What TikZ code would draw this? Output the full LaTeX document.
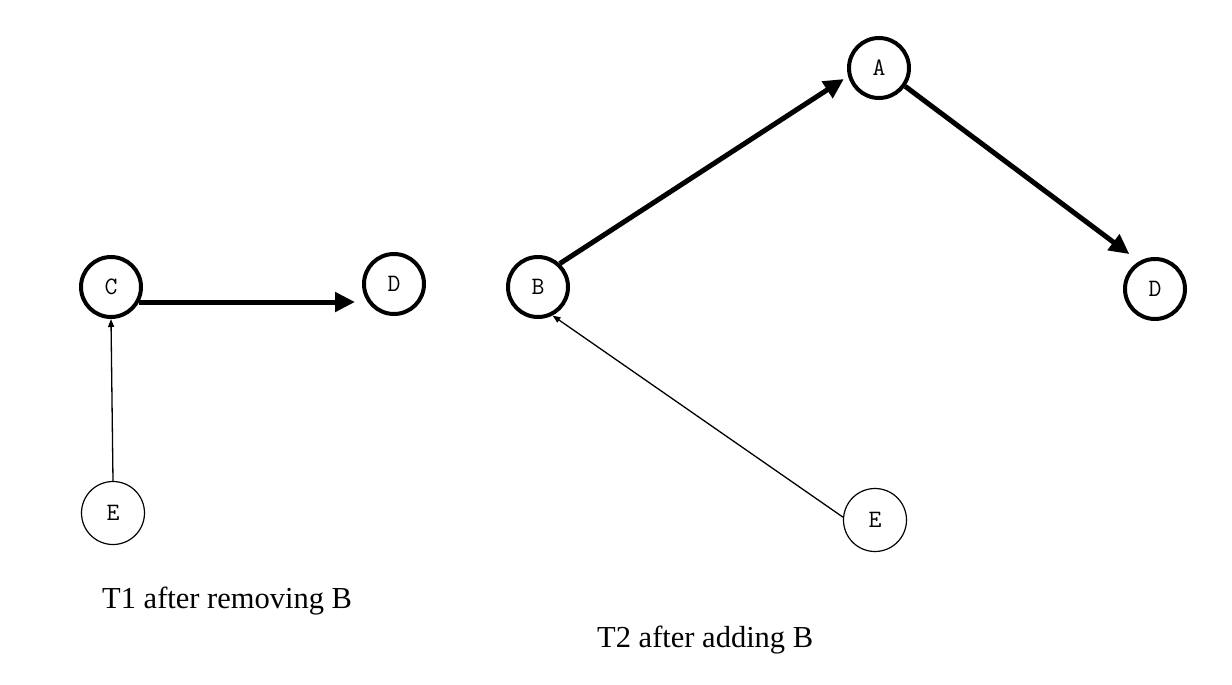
\documentclass[tikz,border=0pt]{standalone}
\usepackage{fontspec}
\setmainfont{Liberation Serif}
\usetikzlibrary{arrows.meta}
\tikzset{
  thicknode/.style={circle, draw, line width=4pt, minimum size=60pt, inner sep=0pt, font=\ttfamily\fontsize{25}{25}\selectfont},
  thinnode/.style={circle, draw, line width=1.2pt, minimum size=63pt, inner sep=0pt, font=\ttfamily\fontsize{25}{25}\selectfont},
  thickedge/.style={line width=5pt, -{Triangle[length=20pt,width=19pt]}},
  thinedge/.style={line width=1.3pt, -{Triangle[length=8pt,width=6pt]}},
  caption/.style={anchor=base west, inner sep=0pt, font=\fontsize{30.5}{30.5}\selectfont}
}
\begin{document}
\begin{tikzpicture}[x=1pt,y=-1pt]
\useasboundingbox (0,0) rectangle (1232,685);
% T1
\node[thicknode] (C) at (111,287) {C};
\node[thicknode] (D1) at (394,284) {D};
\node[thinnode] (E1) at (113,513) {E};
% T2
\node[thicknode] (B) at (538,287) {B};
\node[thicknode] (A) at (879,68) {A};
\node[thicknode] (D2) at (1155,289) {D};
\node[thinnode] (E2) at (875,520) {E};
% edges
\draw[thickedge, shorten >=7pt] (C.-28) -- (C.-28 -| D1.west);
\draw[thinedge] (E1.north) -- (C.south);
\draw[thickedge, shorten >=5pt] (B.47) -- (A.195);
\draw[thickedge, shorten >=12pt] (A.-35) -- (D2.120);
\draw[thinedge] (E2.175) -- (B.-63);
% captions
\node[caption] (t1) at (102,608) {T1 after removing B};
\node[caption] (t2) at (597,647) {T2 after adding B};
\end{tikzpicture}
\end{document}
